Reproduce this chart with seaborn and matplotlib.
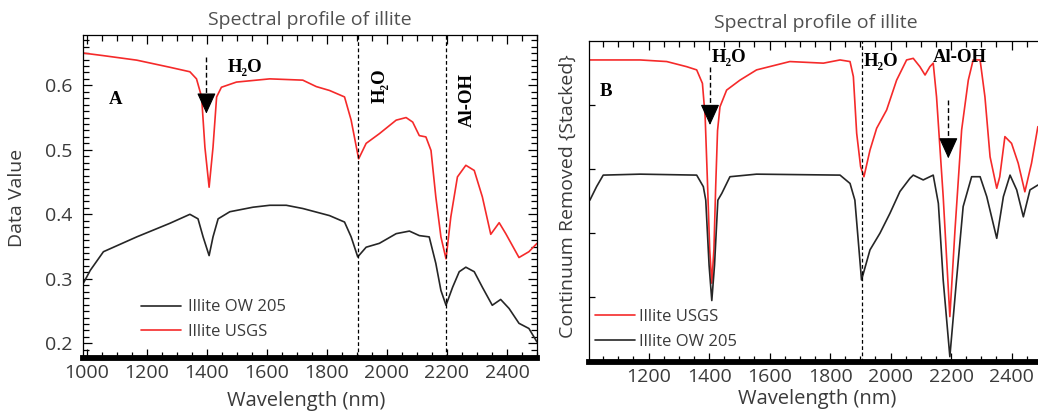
import numpy as np
import pandas as pd
import matplotlib
matplotlib.use('Agg')
import matplotlib.pyplot as plt
import seaborn as sns
from matplotlib.ticker import MultipleLocator, FixedLocator, NullFormatter, FormatStrFormatter
from matplotlib.lines import Line2D

# ---------------- data ----------------
# Panel A : reflectance (Data Value)
a_usgs_nm = [989, 1056, 1167, 1277, 1344, 1366, 1383, 1394, 1408, 1421, 1433, 1449, 1499, 1610,
             1720, 1765, 1809, 1859, 1881, 1906, 1931, 1975, 2031, 2064, 2086, 2108, 2130, 2147,
             2163, 2180, 2197, 2213, 2235, 2263, 2291, 2318, 2346, 2374, 2396, 2440, 2473, 2500]
a_usgs_val = [0.650, 0.646, 0.639, 0.628, 0.621, 0.610, 0.582, 0.504, 0.442, 0.504, 0.582, 0.597,
              0.605, 0.610, 0.608, 0.598, 0.592, 0.582, 0.546, 0.486, 0.510, 0.525, 0.546, 0.550,
              0.543, 0.522, 0.520, 0.499, 0.427, 0.365, 0.331, 0.396, 0.458, 0.476, 0.468, 0.427,
              0.369, 0.387, 0.370, 0.333, 0.342, 0.355]

a_ow_nm = [989, 1012, 1056, 1167, 1277, 1344, 1371, 1388, 1408, 1421, 1438, 1477, 1554, 1610, 1665,
           1720, 1809, 1859, 1881, 1903, 1931, 1975, 2031, 2075, 2108, 2141, 2163, 2180, 2197, 2219,
           2241, 2263, 2291, 2318, 2351, 2379, 2407, 2440, 2473, 2500]
a_ow_val = [0.293, 0.313, 0.342, 0.365, 0.386, 0.400, 0.393, 0.365, 0.336, 0.365, 0.393, 0.404,
            0.411, 0.414, 0.414, 0.409, 0.398, 0.388, 0.365, 0.334, 0.349, 0.355, 0.370, 0.374,
            0.367, 0.365, 0.324, 0.282, 0.259, 0.287, 0.311, 0.318, 0.311, 0.287, 0.259, 0.268,
            0.254, 0.231, 0.223, 0.202]

# Panel B : continuum removed (stacked, relative units)
b_usgs_nm = [1006, 1172, 1260, 1326, 1359, 1378, 1387, 1395, 1402, 1409, 1416, 1422, 1428, 1436,
             1458, 1502, 1557, 1667, 1778, 1833, 1866, 1877, 1888, 1901, 1912, 1932, 1954, 1987,
             2020, 2053, 2075, 2097, 2114, 2130, 2141, 2152, 2174, 2196, 2213, 2235, 2257, 2273,
             2296, 2312, 2329, 2351, 2361, 2378, 2400, 2422, 2444, 2466, 2487]
b_usgs_val = [0.940, 0.940, 0.935, 0.919, 0.909, 0.867, 0.763, 0.550, 0.350, 0.244, 0.350, 0.550,
              0.720, 0.794, 0.846, 0.877, 0.909, 0.935, 0.930, 0.940, 0.935, 0.888, 0.711, 0.607,
              0.576, 0.659, 0.727, 0.784, 0.877, 0.940, 0.945, 0.919, 0.893, 0.919, 0.930, 0.825,
              0.514, 0.140, 0.410, 0.722, 0.877, 0.940, 0.940, 0.825, 0.638, 0.540, 0.576, 0.701,
              0.680, 0.618, 0.529, 0.618, 0.732]

b_ow_nm = [1006, 1028, 1050, 1172, 1359, 1381, 1389, 1400, 1409, 1418, 1429, 1442, 1469, 1557,
           1833, 1866, 1882, 1904, 1932, 1965, 1998, 2031, 2064, 2075, 2108, 2141, 2158, 2174,
           2196, 2218, 2240, 2268, 2296, 2318, 2351, 2373, 2395, 2417, 2439, 2461, 2487]
b_ow_val = [0.503, 0.545, 0.581, 0.584, 0.581, 0.545, 0.503, 0.300, 0.190, 0.300, 0.503, 0.524,
            0.576, 0.584, 0.581, 0.555, 0.503, 0.254, 0.348, 0.400, 0.462, 0.530, 0.571, 0.581,
            0.566, 0.581, 0.493, 0.254, 0.015, 0.254, 0.483, 0.576, 0.576, 0.514, 0.384, 0.514,
            0.581, 0.535, 0.451, 0.535, 0.550]

title_text = "Spectral profile of illite"
xlabel_text = "Wavelength (nm)"
label_usgs = "Illite USGS"
label_ow = "Illite OW 205"
a_yticks = [0.2, 0.3, 0.4, 0.5, 0.6]
a_xticks = [1000, 1200, 1400, 1600, 1800, 2000, 2200, 2400]
b_xticks = [1200, 1400, 1600, 1800, 2000, 2200, 2400]
b_yticks = [0.2, 0.4, 0.6, 0.8]

RED = "#f52a2a"
BLACK = "#262626"
TXT = "#3a3a3a"

# ---------------- figure ----------------
sns.set_theme(style="white")
plt.rcParams['font.family'] = ['Open Sans', 'DejaVu Sans']

W, H = 1038, 412
fig = plt.figure(figsize=(W / 100, H / 100), dpi=100)


def ax_px(l, r, t, b):
    return fig.add_axes([l / W, (H - b) / H, (r - l) / W, (b - t) / H])


axA = ax_px(83.3, 537, 35, 357.5)
axB = ax_px(589.3, 1041.8, 40.7, 361.5)

dfA_usgs = pd.DataFrame({"nm": a_usgs_nm, "val": a_usgs_val})
dfA_ow = pd.DataFrame({"nm": a_ow_nm, "val": a_ow_val})
dfB_usgs = pd.DataFrame({"nm": b_usgs_nm, "val": b_usgs_val})
dfB_ow = pd.DataFrame({"nm": b_ow_nm, "val": b_ow_val})

sns.lineplot(data=dfA_usgs, x="nm", y="val", color=RED, lw=1.2, ax=axA)
sns.lineplot(data=dfA_ow, x="nm", y="val", color=BLACK, lw=1.2, ax=axA)
sns.lineplot(data=dfB_usgs, x="nm", y="val", color=RED, lw=1.2, ax=axB)
sns.lineplot(data=dfB_ow, x="nm", y="val", color=BLACK, lw=1.2, ax=axB)

axA.set_xlim(989, 2500)
axA.set_ylim(0.178, 0.678)
axB.set_xlim(1004, 2500)
axB.set_ylim(0, 1)

for ax in (axA, axB):
    ax.set_xlabel("")
    ax.set_ylabel("")
    for s in ax.spines.values():
        s.set_visible(True)
        s.set_color("black")
        s.set_linewidth(0.9)
    ax.spines["bottom"].set_linewidth(4.2)
    ax.xaxis.set_minor_locator(MultipleLocator(50))
    ax.tick_params(axis="both", which="both", direction="in", color="black",
                   labelsize=14, labelcolor=TXT, width=0.9)
    ax.tick_params(axis="both", which="major", length=6.5)
    ax.tick_params(axis="both", which="minor", length=4)
    ax.tick_params(axis="x", which="both", top=True, bottom=True, pad=5)

# Panel A axes
axA.xaxis.set_major_locator(FixedLocator(a_xticks))
axA.yaxis.set_major_locator(FixedLocator(a_yticks))
axA.yaxis.set_major_formatter(FormatStrFormatter("%.1f"))
axA.yaxis.set_minor_locator(MultipleLocator(0.01))
axA.tick_params(axis="y", which="both", left=True, right=True, pad=8)

# Panel B axes
axB.xaxis.set_major_locator(FixedLocator(b_xticks))
axB.yaxis.set_major_locator(FixedLocator(b_yticks))
axB.yaxis.set_major_formatter(NullFormatter())
axB.tick_params(axis="y", which="major", left=True, right=False, length=4)

# vertical dashed markers
for xv in (1905, 2198):
    axA.axvline(xv, color="black", lw=0.9, ls=(0, (3, 2)))
axB.axvline(1904, color="black", lw=0.9, ls=(0, (3, 2)))


# arrows (dashed stem + solid head)
def dashed_arrow(ax, x, y_start, y_base, y_tip):
    ax.plot([x, x], [y_start, y_base], color="black", lw=1.0, ls=(0, (3.5, 2)))
    ax.annotate("", xy=(x, y_tip), xytext=(x, y_base),
                arrowprops=dict(arrowstyle="-|>,head_length=1.1,head_width=0.5",
                                color="black", lw=0.8, shrinkA=0, shrinkB=0))


dashed_arrow(axA, 1399, 0.644, 0.580, 0.556)
dashed_arrow(axB, 1403, 0.919, 0.783, 0.737)
dashed_arrow(axB, 2191, 0.815, 0.679, 0.633)

serif = ["Liberation Serif", "DejaVu Serif"]
bold = dict(family=serif, fontweight="bold", color="black", fontsize=13.5)
h2o = "H\u2082O"

axA.text(1096, 0.578, "A", ha="center", va="center", **bold)
axA.text(1527, 0.628, h2o, ha="center", va="center", **bold)
axA.text(1977, 0.600, h2o, ha="center", va="center", rotation=90, **bold)
axA.text(2267, 0.577, "Al-OH", ha="center", va="center", rotation=90, **bold)

axB.text(1059, 0.843, "B", ha="center", va="center", **bold)
axB.text(1466, 0.949, h2o, ha="center", va="center", **bold)
axB.text(1967, 0.934, h2o, ha="center", va="center", **bold)
axB.text(2229, 0.949, "Al-OH", ha="center", va="center", **bold)

# legends
hA = [Line2D([], [], color=BLACK, lw=1.2), Line2D([], [], color=RED, lw=1.2)]
axA.legend(hA, [label_ow, label_usgs], loc="upper left", bbox_to_anchor=(0.128, 0.18),
           frameon=False, fontsize=12, handlelength=2.4, handletextpad=0.4,
           labelspacing=0.5, borderpad=0, borderaxespad=0, labelcolor=TXT)
hB = [Line2D([], [], color=RED, lw=1.2), Line2D([], [], color=BLACK, lw=1.2)]
axB.legend(hB, [label_usgs, label_ow], loc="upper left", bbox_to_anchor=(0.0126, 0.163),
           frameon=False, fontsize=12, handlelength=2.4, handletextpad=0.25,
           labelspacing=0.5, borderpad=0, borderaxespad=0, labelcolor=TXT)

# titles and axis labels
fig.text(310 / W, 1 - 20 / H, title_text, ha="center", va="center", fontsize=14, color="#505050")
fig.text(816 / W, 1 - 23 / H, title_text, ha="center", va="center", fontsize=14, color="#505050")
fig.text(306 / W, 1 - 401 / H, xlabel_text, ha="center", va="center", fontsize=14.5, color=TXT)
fig.text(817 / W, 1 - 399 / H, xlabel_text, ha="center", va="center", fontsize=14.5, color=TXT)
fig.text(17 / W, 1 - 198 / H, "Data Value", ha="center", va="center", rotation=90,
         fontsize=14, color=TXT)
fig.text(568 / W, 1 - 196 / H, "Continuum Removed {Stacked}", ha="center", va="center",
         rotation=90, fontsize=14, color=TXT)

fig.savefig("out.png", dpi=100)
